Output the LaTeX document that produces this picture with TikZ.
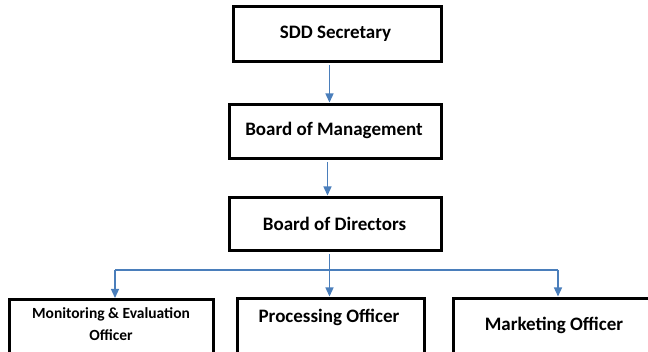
\documentclass[tikz,border=0pt]{standalone}
\usepackage{fontspec}
\setmainfont{Carlito}
\usetikzlibrary{arrows.meta}
\definecolor{arrowblue}{HTML}{4A7EBB}
\begin{document}
\begin{tikzpicture}[x=1pt,y=-1pt,
  box/.style={draw=black, line width=3pt, fill=white, rectangle, inner sep=0pt, anchor=north west},
  lbl/.style={font=\bfseries\fontsize{19}{22}\selectfont, align=center, inner sep=0pt},
  smalllbl/.style={font=\bfseries\fontsize{15.5}{22}\selectfont, align=center, inner sep=0pt},
  link/.style={draw=arrowblue, line width=1.3pt},
  conn/.style={link, -{Triangle[width=8pt,length=9pt]}}]
\useasboundingbox (0,0) rectangle (648,352);
\clip (0,0) rectangle (648,352);
% boxes
\node[box, minimum width=208pt, minimum height=55pt] (sdd) at (231.5,5.5) {};
\node[box, minimum width=212pt, minimum height=54pt] (bom) at (227.5,103.5) {};
\node[box, minimum width=212pt, minimum height=53pt] (bod) at (227.5,196.5) {};
\node[box, minimum width=204pt, minimum height=80pt] (mon) at (7.5,298.5) {};
\node[box, minimum width=187pt, minimum height=80pt] (proc) at (235.5,297.5) {};
\node[box, minimum width=210pt, minimum height=80pt] (mark) at (451.5,297.5) {};
% labels
\node[lbl] (tsdd) at (335.5,34) {SDD Secretary};
\node[lbl] (tbom) at (334,130) {Board of Management};
\node[lbl] (tbod) at (334.5,224) {Board of Directors};
\node[smalllbl] (tmon) at (111,324) {Monitoring \& Evaluation\\Officer};
\node[lbl] (tproc) at (329,317) {Processing Officer};
\node[lbl] (tmark) at (554,325) {Marketing Officer};
% connectors
\draw[conn] ([xshift=-7.5pt,yshift=-1.5pt]sdd.south) -- ([xshift=-5.5pt,yshift=1pt]bom.north);
\draw[conn] ([xshift=-7.5pt,yshift=-1.5pt]bom.south) -- ([xshift=-7.5pt,yshift=1pt]bod.north);
\coordinate (jl) at (115,270);
\coordinate (jr) at (558,270);
\draw[link] (jl) -- (jr);
\draw[conn] ([xshift=-5.5pt,yshift=-1.5pt]bod.south) -- ([xshift=-1pt,yshift=1pt]proc.north);
\draw[conn] (jl) -- ([yshift=0.5pt]mon.north -| jl);
\draw[conn] (jr) -- ([yshift=1pt]mark.north -| jr);
\end{tikzpicture}
\end{document}
